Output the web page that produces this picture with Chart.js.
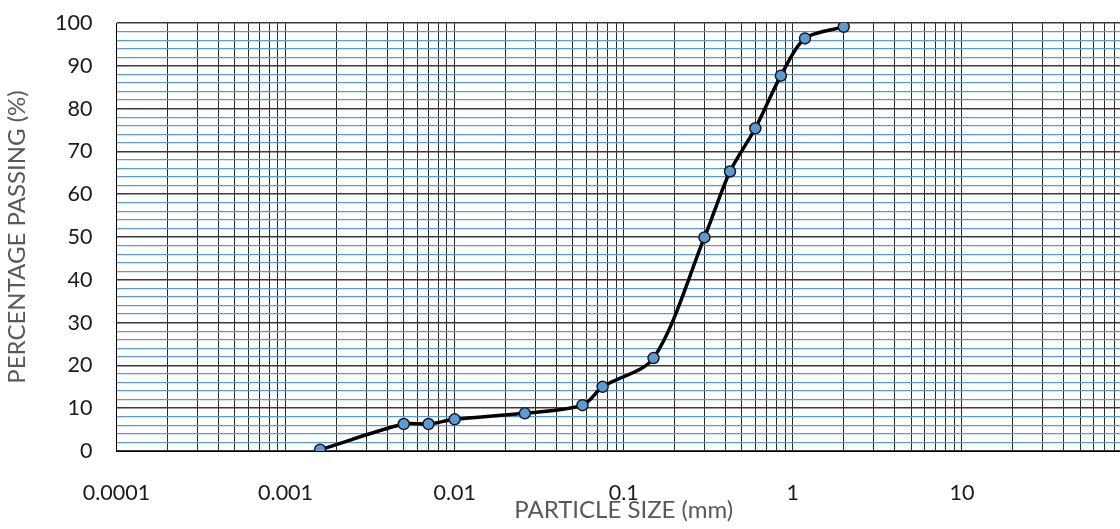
<!DOCTYPE html>
<html>
<head>
<meta charset="utf-8">
<script src="https://cdn.jsdelivr.net/npm/chart.js@4"></script>
<style>
  html, body { margin: 0; padding: 0; background: #fff; overflow: hidden; }
  #wrap { width: 1138px; height: 529px; position: relative; }
</style>
</head>
<body>
<div id="wrap"><canvas id="gradChart"></canvas></div>
<script>
// grain size distribution
const particleSize = [0.0016, 0.005, 0.007, 0.01, 0.026, 0.057, 0.075, 0.15, 0.3, 0.425, 0.6, 0.85, 1.18, 2.0];
const percentPassing = [0.3, 6.3, 6.3, 7.4, 8.8, 10.7, 15.0, 21.7, 49.9, 65.3, 75.4, 87.7, 96.4, 99.1];

const xDecades = [0.0001, 0.001, 0.01, 0.1, 1, 10, 100];
const xTickLabels = ["0.0001", "0.001", "0.01", "0.1", "1", "10", ""];
const yMajorTicks = [0, 10, 20, 30, 40, 50, 60, 70, 80, 90, 100];
const yMinorStep = 2;

const FONT = "Lato, 'Open Sans', sans-serif";

// 1..9 per decade for the log grid
function logGridValues() {
  const vals = [];
  xDecades.forEach((d, i) => {
    if (i === xDecades.length - 1) { vals.push(d); return; }
    for (let m = 1; m <= 9; m++) vals.push(+(m * d).toPrecision(6));
  });
  return vals;
}

const points = particleSize.map((s, i) => ({ x: s, y: percentPassing[i] }));

const ctx = document.getElementById("gradChart").getContext("2d");
const chart = new Chart(ctx, {
  type: "line",
  data: {
    datasets: [{
      data: points,
      borderColor: "#000",
      borderWidth: 3.5,
      tension: 0.3,
      pointRadius: 5.5,
      pointBackgroundColor: "#5B9BD5",
      pointBorderColor: "#1a1a1a",
      pointBorderWidth: 1.5,
      fill: false
    }]
  },
  options: {
    responsive: true,
    maintainAspectRatio: false,
    animation: false,
    layout: { padding: { top: 23, left: 0, right: 0, bottom: 0 } },
    plugins: {
      legend: { display: false },
      tooltip: { enabled: false }
    },
    scales: {
      x: {
        type: "logarithmic",
        min: 0.0001,
        max: 100,
        afterBuildTicks: scale => {
          scale.ticks = logGridValues().map(v => ({ value: v }));
        },
        afterFit: scale => {
          scale.height = 78;
          scale.paddingLeft = 0;
          scale.paddingRight = 0;
        },
        ticks: {
          autoSkip: false,
          maxRotation: 0,
          padding: 29,
          color: "#1a1a1a",
          font: { family: FONT, size: 21.5 },
          callback: v => {
            const i = xDecades.findIndex(d => Math.abs(v - d) / d < 1e-6);
            return i >= 0 ? xTickLabels[i] : "";
          }
        },
        grid: {
          drawTicks: false,
          color: "#2b2b2b",
          lineWidth: 1
        },
        border: { color: "#000", width: 1 },
        title: {
          display: true,
          text: "PARTICLE SIZE (mm)",
          color: "#595959",
          font: { family: FONT, size: 24 },
          padding: { top: 0, bottom: 4 }
        }
      },
      y: {
        min: 0,
        max: 100,
        afterBuildTicks: scale => {
          const t = [];
          for (let v = 0; v <= 100; v += yMinorStep) t.push({ value: v });
          scale.ticks = t;
        },
        afterFit: scale => {
          scale.width = 116.5;
          scale.paddingTop = 0;
          scale.paddingBottom = 0;
        },
        ticks: {
          autoSkip: false,
          padding: 24,
          color: "#1a1a1a",
          font: { family: FONT, size: 21.5 },
          callback: v => (yMajorTicks.includes(v) ? String(v) : "")
        },
        grid: {
          drawTicks: false,
          color: c => (yMajorTicks.includes(c.tick.value) ? "#3a3a3a" : "#5B9BD5"),
          lineWidth: c => (yMajorTicks.includes(c.tick.value) ? 1.5 : 1.2)
        },
        border: { color: "#000", width: 1 },
        title: {
          display: true,
          text: "PERCENTAGE PASSING (%)",
          color: "#595959",
          font: { family: FONT, size: 24 },
          padding: { top: 3, bottom: 0 }
        }
      }
    }
  }
});
</script>
</body>
</html>
